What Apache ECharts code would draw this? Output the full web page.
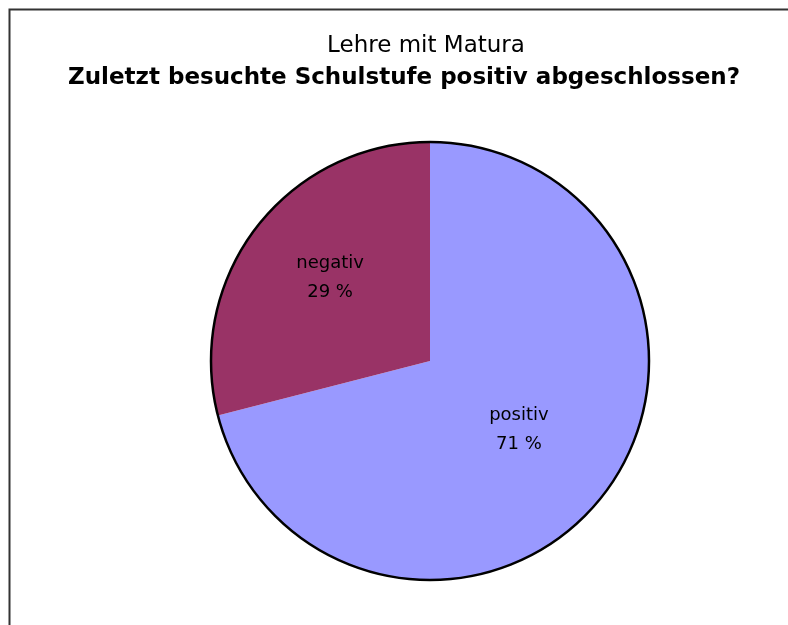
<!DOCTYPE html>
<html>
<head>
<meta charset="utf-8">
<script src="https://cdn.jsdelivr.net/npm/echarts@6/dist/echarts.min.js"></script>
<style>
  html, body { margin: 0; padding: 0; background: #fff; }
  #chart { width: 788px; height: 625px; }
</style>
</head>
<body>
<div id="chart"></div>
<script>
// Daten
const categories = ['positiv', 'negativ']
const values = [71, 29]
const colors = ['#9999FF', '#993366']

const chart = echarts.init(document.getElementById('chart'))

const pieData = categories.map((name, i) => ({
    name: name,
    value: values[i],
    itemStyle: { color: colors[i] },
    // Beschriftung "negativ" sitzt im Original etwas weiter außen
    label: i === 1 ? { offset: [-11, -14] } : {}
}))
const total = values.reduce((a, b) => a + b, 0)

const option = {
    backgroundColor: '#fff',
    animation: false,
    title: [{
        text: 'Lehre mit Matura',
        left: 421,
        textAlign: 'center',
        top: 30,
        textStyle: { fontFamily: 'DejaVu Sans', fontWeight: 'normal', fontSize: 23, color: '#000' }
    }, {
        text: 'Zuletzt besuchte Schulstufe positiv abgeschlossen?',
        left: 399,
        textAlign: 'center',
        top: 62,
        textStyle: { fontFamily: 'DejaVu Sans', fontWeight: 'bold', fontSize: 23, color: '#000' }
    }],
    graphic: [{
        type: 'rect',
        left: 7,
        top: 7,
        shape: { width: 820, height: 660 },
        style: { fill: 'none', stroke: '#333', lineWidth: 2 }
    }],
    series: [{
        type: 'pie',
        center: [430, 361],
        radius: 219,
        startAngle: 90,
        clockwise: true,
        data: pieData,
        itemStyle: { borderWidth: 0 },
        label: {
            show: true,
            position: 'inside',
            formatter: p => p.name + '\n' + p.value + ' %',
            fontFamily: 'DejaVu Sans',
            fontSize: 18,
            lineHeight: 29,
            color: '#000'
        },
        labelLine: { show: false },
        emphasis: { disabled: true }
    }, {
        // nur der schwarze Außenrand
        type: 'pie',
        center: [430, 361],
        radius: 219,
        silent: true,
        data: [{ value: total }],
        itemStyle: { color: 'rgba(0,0,0,0)', borderColor: '#000', borderWidth: 2.5 },
        label: { show: false },
        labelLine: { show: false }
    }]
}

chart.setOption(option)
</script>
</body>
</html>
